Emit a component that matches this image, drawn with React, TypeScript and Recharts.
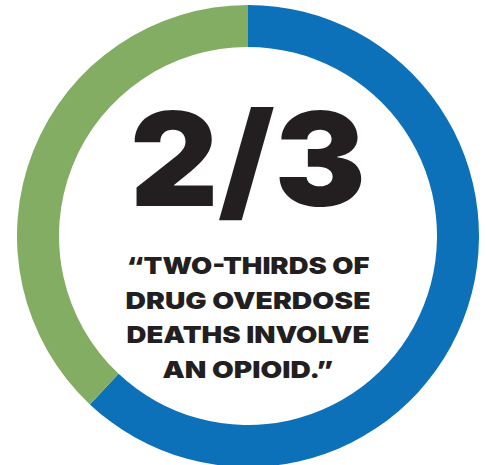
import React from 'react';
import { PieChart, Pie, Cell, Label } from 'recharts';

const categories = ['Involve an opioid', 'Other drugs'];
const shares = [62, 38];
const colors = ['#0D71BA', '#82AD62'];
const headline = '2/3';
const quoteLines = ['\u201CTWO-THIRDS OF', 'DRUG OVERDOSE', 'DEATHS INVOLVE', 'AN OPIOID.\u201D'];
const quoteWidths = [243, 245, 243, 171];

const data = categories.map((name, i) => ({ name, value: shares[i] }));

const FONT = 'Inter, "Noto Sans", sans-serif';

const renderCenter = (props: any) => {
  const vb = props.viewBox || {};
  const cx = vb.cx ?? 248;
  const cy = vb.cy ?? 236;
  return (
    <g>
      <text
        x={cx}
        y={cy - 30}
        textAnchor="middle"
        fontFamily={FONT}
        fontWeight={900}
        fontSize={130}
        fill="#231F20"
        textLength={236}
        lengthAdjust="spacingAndGlyphs"
      >
        {headline}
      </text>
      {quoteLines.map((line, i) => (
        <text
          key={i}
          x={cx}
          y={cy + 38 + i * 34.7}
          textAnchor="middle"
          fontFamily={FONT}
          fontWeight={900}
          fontSize={23.5}
          fill="#231F20"
          textLength={quoteWidths[i]}
          lengthAdjust="spacingAndGlyphs"
        >
          {line}
        </text>
      ))}
    </g>
  );
};

export default function App() {
  return (
    <div style={{ position: 'absolute', left: 0, top: 0, width: 487, height: 465 }}>
      <PieChart width={487} height={465} margin={{ top: 0, right: 0, bottom: 0, left: 0 }}>
        <Pie
          data={data}
          dataKey="value"
          nameKey="name"
          cx={248}
          cy={236}
          innerRadius={189}
          outerRadius={231}
          startAngle={90}
          endAngle={-270}
          stroke="none"
          isAnimationActive={false}
        >
          {data.map((d, i) => (
            <Cell key={d.name} fill={colors[i]} />
          ))}
          <Label position="center" content={renderCenter} />
        </Pie>
      </PieChart>
    </div>
  );
}
